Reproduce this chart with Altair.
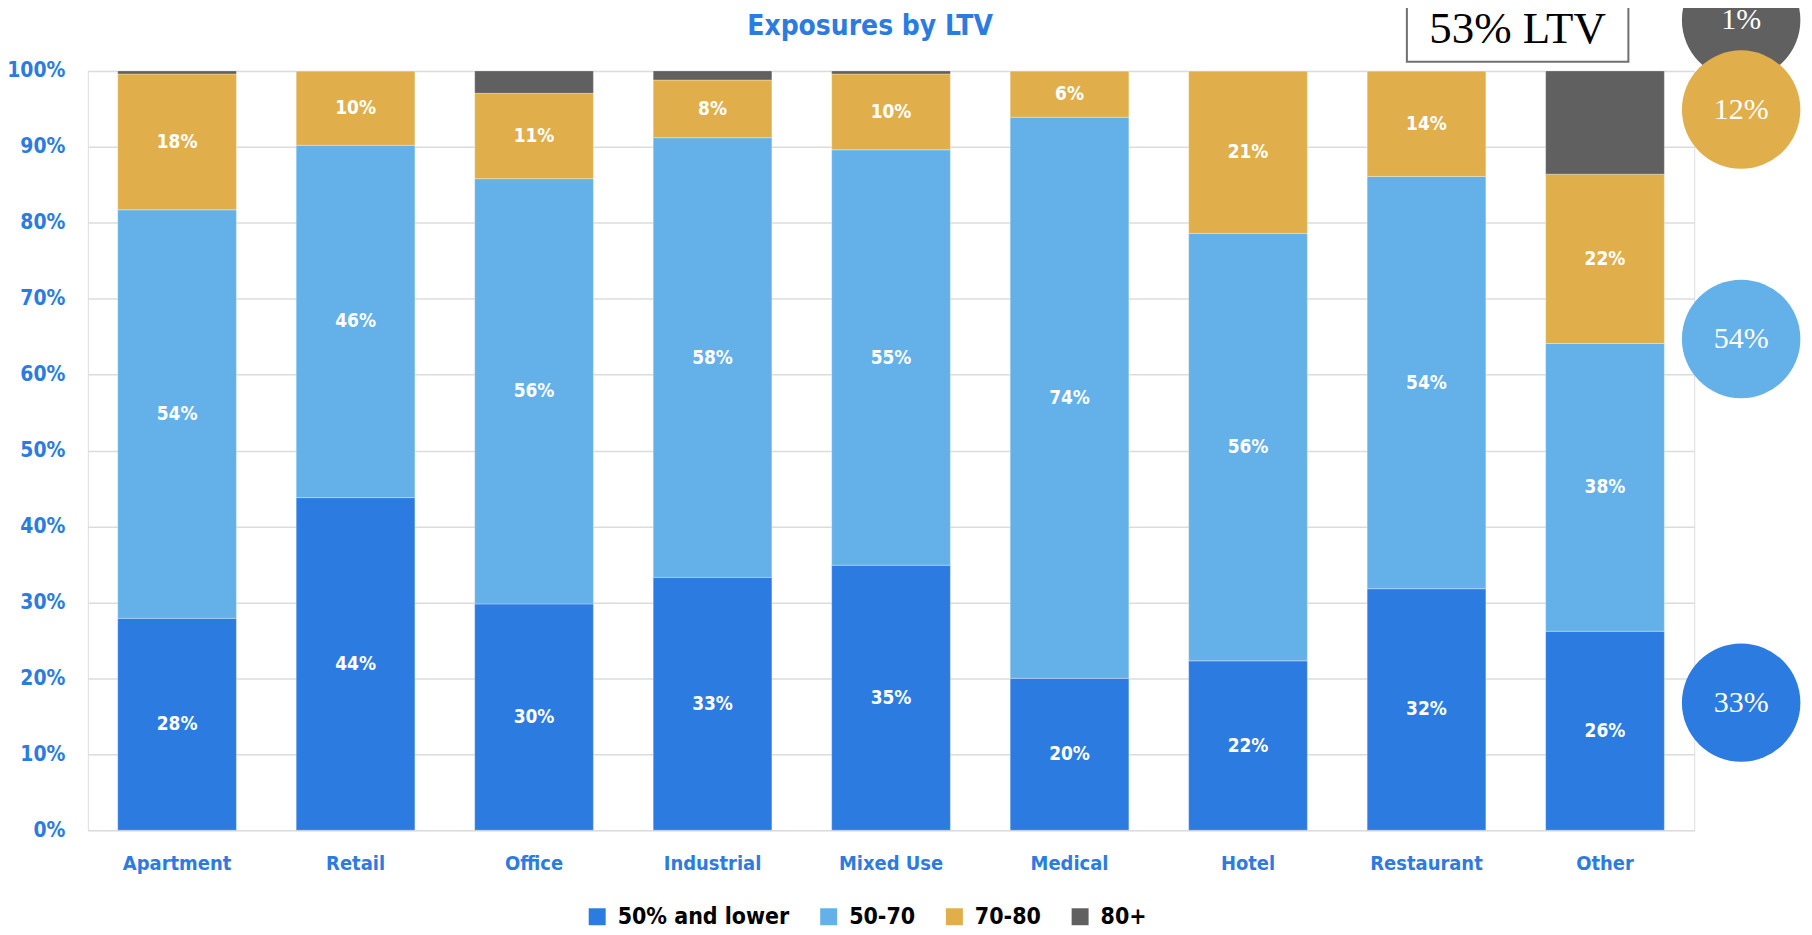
import altair as alt
import pandas as pd

# ---------------- data ----------------
categories = ["Apartment", "Retail", "Office", "Industrial", "Mixed Use",
              "Medical", "Hotel", "Restaurant", "Other"]
series = ["50% and lower", "50-70", "70-80", "80+"]
colors = ["#2c7be0", "#63b1e8", "#e0af4c", "#606060"]

low = [27.9, 43.8, 29.8, 33.3, 34.9, 20.0, 22.3, 31.8, 26.2]
mid = [53.8, 46.4, 56.0, 57.9, 54.7, 73.9, 56.3, 54.3, 37.9]
high = [17.9, 9.8, 11.25, 7.6, 10.0, 6.1, 21.4, 13.9, 22.3]
top = [0.4, 0.0, 2.95, 1.2, 0.4, 0.0, 0.0, 0.0, 13.6]

y_ticks = [0, 10, 20, 30, 40, 50, 60, 70, 80, 90, 100]

# overall mix bubbles (grey first so the gold one overlaps it)
bubble_series = ["80+", "70-80", "50-70", "50% and lower"]
bubble_labels = ["1%", "12%", "54%", "33%"]
bubble_y = [106.7, 94.9, 64.7, 16.8]

box_text = "53% LTV"
box_y = [101.2, 112.0]
box_text_y = 105.5

title_text = "Exposures by LTV"

# ---------------- styling ----------------
BLUE = "#2c7be0"
SANS = "DejaVu Sans Condensed"
SERIF = "Liberation Serif"

rows = []
for i, s in enumerate(series):
    vals = [low, mid, high, top][i]
    for c, v in zip(categories, vals):
        rows.append({"cat": c, "series": s, "idx": i, "value": v})
df = pd.DataFrame(rows)

bub = pd.DataFrame({
    "series": bubble_series,
    "label": bubble_labels,
    "y": bubble_y,
    "hex": [colors[series.index(s)] for s in bubble_series],
})
box_df = pd.DataFrame({"y1": [box_y[0]], "y2": [box_y[1]], "ty": [box_text_y], "t": [box_text]})
title_df = pd.DataFrame({"t": [title_text]})

yscale = alt.Scale(domain=[0, 100], nice=False, zero=True)
yaxis = alt.Axis(values=y_ticks, labelExpr="datum.value + '%'", grid=True,
                 gridColor="#dcdcdc", gridWidth=1.5, domain=False, ticks=False,
                 labelPadding=23, labelFontSize=21, labelFont=SANS,
                 labelFontWeight="bold", labelColor=BLUE, title=None)
xaxis = alt.Axis(title=None, labelAngle=0, ticks=False, domain=False, grid=False,
                 labelPadding=23, labelFontSize=20, labelFont=SANS,
                 labelFontWeight="bold", labelColor=BLUE)
xscale = alt.Scale(paddingInner=0.335, paddingOuter=0.1675)


def X():
    return alt.X("cat:N", sort=categories, scale=xscale, axis=xaxis, title=None)


def Y(field):
    return alt.Y(field, type="quantitative", scale=yscale, axis=yaxis, title=None)


base = alt.Chart(df).transform_stack(
    stack="value", groupby=["cat"], as_=["v0", "v1"],
    sort=[alt.SortField("idx", order="ascending")]
).transform_calculate(
    vmid="(datum.v0 + datum.v1) / 2",
    lab="format(datum.value, '.0f') + '%'"
)

bars = base.mark_bar(stroke="#ffffff", strokeWidth=0.6, strokeOpacity=0.5).encode(
    x=X(),
    y=Y("v0"),
    y2="v1:Q",
    color=alt.Color("series:N", scale=alt.Scale(domain=series, range=colors),
                    legend=alt.Legend(title=None, orient="none", legendX=499, legendY=836,
                                      direction="horizontal", symbolType="square",
                                      symbolSize=289, symbolStrokeWidth=0,
                                      labelFontSize=23, labelFont=SANS,
                                      labelFontWeight="bold", labelColor="#000000",
                                      labelOffset=9, columnPadding=27, padding=0,
                                      labelLimit=500)),
    order=alt.Order("idx:Q"),
)

labels = base.transform_filter("datum.series != '80+'").mark_text(
    color="white", font=SANS, fontWeight="bold", fontSize=19, baseline="middle"
).encode(x=X(), y=Y("vmid"), text="lab:N")

bubbles = alt.Chart(bub).mark_circle(size=14100, opacity=1).encode(
    x=alt.value(1657), y=Y("y"), color=alt.Color("hex:N", scale=None)
)
bubble_text = alt.Chart(bub).mark_text(
    color="white", font=SERIF, fontSize=30, baseline="middle"
).encode(x=alt.value(1657), y=Y("y"), text="label:N")

box = alt.Chart(box_df).mark_rect(fill="white", stroke="#707070", strokeWidth=2).encode(
    x=alt.value(1322), x2=alt.value(1544), y=Y("y1"), y2="y2:Q"
)
box_label = alt.Chart(box_df).mark_text(
    color="black", font=SERIF, fontSize=45, baseline="middle"
).encode(x=alt.value(1433), y=Y("ty"), text="t:N")

title = alt.Chart(title_df).mark_text(
    color=BLUE, font=SANS, fontSize=28, fontWeight="bold", baseline="alphabetic",
    align="center"
).encode(x=alt.value(784), y=alt.value(-36), text="t:N")

chart = alt.layer(bars, labels, box, box_label, bubbles, bubble_text, title).properties(
    width=1610, height=761,
    autosize=alt.AutoSizeParams(type="none"),
    padding={"left": 80, "top": 62, "right": 110, "bottom": 100},
).configure_view(stroke=None).configure(background="white")

chart.save("out.html", embed_options={"renderer": "svg", "actions": False})
